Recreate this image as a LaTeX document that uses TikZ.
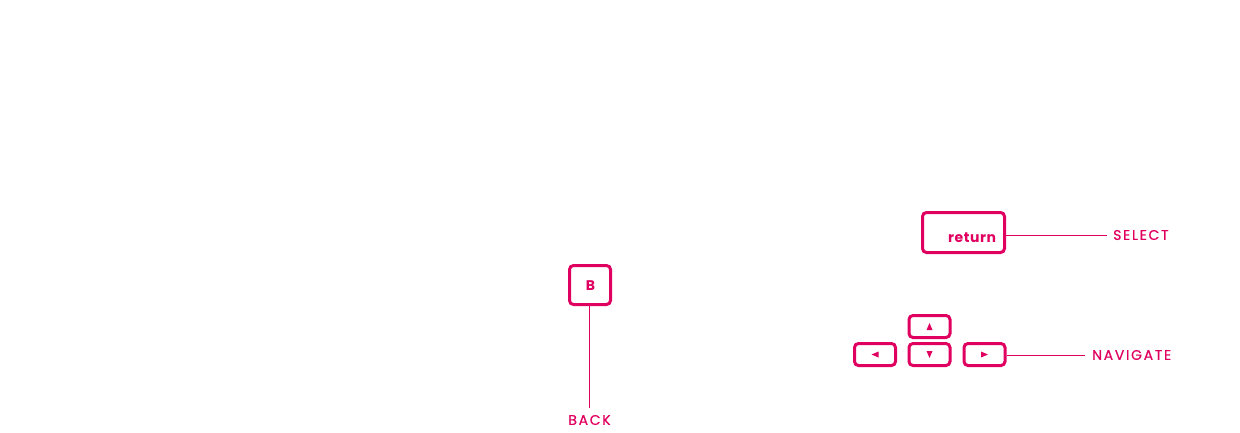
\documentclass[tikz,border=0pt]{standalone}
\usepackage{fontspec}
\setmainfont{Poppins}
\newfontfamily\hintfont[LetterSpace=12,FakeBold=0.6]{Poppins}
\newfontfamily\keyfont[LetterSpace=4]{Poppins}
\usepackage{tikz}
\usepackage{xcolor}

\definecolor{keypink}{RGB}{224,0,96}

\begin{document}
\begin{tikzpicture}[x=1pt,y=-1pt,
    key/.style={draw=keypink,line width=3pt,rounded corners=4pt,inner sep=0pt},
    keytext/.style={text=keypink,font=\keyfont\bfseries\fontsize{14}{14}\selectfont,inner sep=0pt},
    hint/.style={text=keypink,font=\hintfont\fontsize{14}{14}\selectfont,inner sep=0pt},
    lead/.style={draw=keypink,line width=1pt}]
    \useasboundingbox (0,0) rectangle (1240,432);

    % back key
    \node[key,minimum width=41pt,minimum height=39pt] (bkey) at (590,285) {};
    \node[keytext] (btext) at (590.5,285.5) {B};
    \node[hint] (back) at (589.5,420) {BACK};
    \draw[lead] (bkey.south -| back) -- ([yshift=7pt]back.north);

    % select key
    \node[key,minimum width=82pt,minimum height=40pt] (retkey) at (963.5,232.5) {};
    \node[keytext] (rettext) at (972,238) {return};
    \node[hint,anchor=west] (select) at (1113,235) {SELECT};
    \draw[lead] (select.west -| retkey.east) -- ([xshift=-6pt]select.west);

    % arrow keys
    \node[key,minimum width=41pt,minimum height=22pt] (up) at (929.5,326.5) {};
    \node[key,minimum width=41pt,minimum height=22pt] (down) at (929.5,354.5) {};
    \node[key,minimum width=41pt,minimum height=22pt] (left) at (875,354.5) {};
    \node[key,minimum width=41pt,minimum height=22pt] (right) at (984.5,354.5) {};
    \fill[keypink] (up.center) ++(0,-3.5) -- ++(3,7) -- ++(-6,0) -- cycle;
    \fill[keypink] (down.center) ++(0,3.5) -- ++(3,-7) -- ++(-6,0) -- cycle;
    \fill[keypink] (left.center) ++(-3.5,0) -- ++(7,-3) -- ++(0,6) -- cycle;
    \fill[keypink] (right.center) ++(3.5,0) -- ++(-7,-3) -- ++(0,6) -- cycle;
    \node[hint,anchor=west] (navigate) at (1092,355) {NAVIGATE};
    \draw[lead] (navigate.west -| right.east) -- ([xshift=-7pt]navigate.west);
\end{tikzpicture}
\end{document}
